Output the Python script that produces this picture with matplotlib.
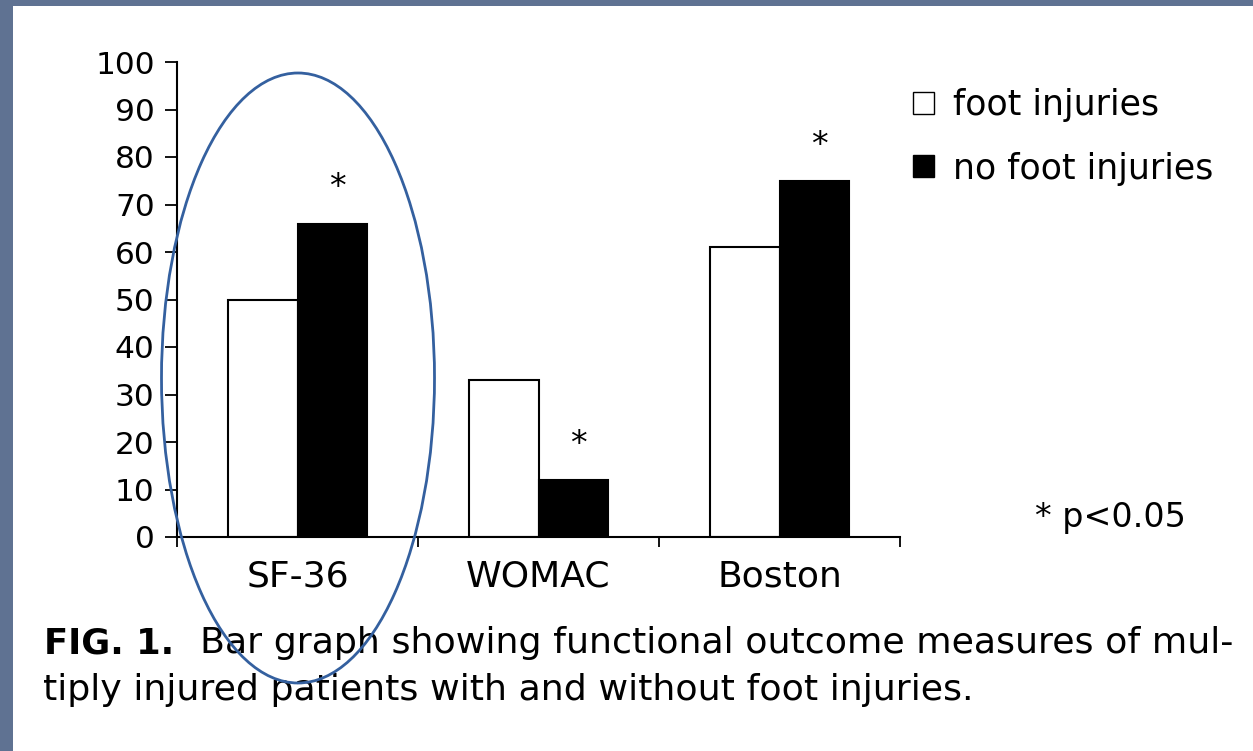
import matplotlib
matplotlib.use("Agg")
import matplotlib.pyplot as plt
import numpy as np
from matplotlib.patches import Ellipse, Rectangle

plt.rcParams['font.family'] = ['DejaVu Sans']

# data
measures = ["SF-36", "WOMAC", "Boston"]
foot_injuries = [50, 33, 61]
no_foot_injuries = [66, 12, 75]
significant = [True, True, True]
series_names = ["foot injuries", "no foot injuries"]
caption_1 = "Bar graph showing functional outcome measures of mul-"
caption_2 = "tiply injured patients with and without foot injuries."

W, H = 1253, 751
fig = plt.figure(figsize=(W / 100, H / 100), dpi=100)
fig.patch.set_facecolor("#5f7292")
# white page inside the blue-grey frame
fig.patches.append(Rectangle((13 / W, 0), 1, 1 - 6 / H, transform=fig.transFigure,
                             facecolor="white", edgecolor="none", zorder=-5))

ax = fig.add_axes([177 / W, 1 - 537 / H, 723 / W, 475 / H])
ax.set_facecolor("none")

x = np.arange(len(measures))
w = 0.29
ax.bar(x - w / 2, foot_injuries, w, color="white", edgecolor="black", linewidth=1.5,
       label=series_names[0])
ax.bar(x + w / 2, no_foot_injuries, w, color="black", edgecolor="black", linewidth=1.5,
       label=series_names[1])
for i in range(len(measures)):
    if significant[i]:
        ax.text(x[i] + w / 2 + 0.02, no_foot_injuries[i] + 7.5, "*", ha="center",
                va="center", fontsize=24)

ax.set_xlim(-0.5, 2.5)
ax.set_ylim(0, 100)
ax.set_yticks(np.arange(0, 101, 10))
ax.set_xticks(x)
ax.set_xticklabels(measures)
ax.set_xticks([-0.5, 0.5, 1.5, 2.5], minor=True)
ax.tick_params(axis="x", which="major", length=0, pad=16, labelsize=26)
ax.tick_params(axis="x", which="minor", length=7, width=1.3, direction="out")
ax.tick_params(axis="y", length=9, width=1.3, pad=7, labelsize=22.5)
for s in ["top", "right"]:
    ax.spines[s].set_visible(False)
for s in ["left", "bottom"]:
    ax.spines[s].set_linewidth(1.5)

leg = fig.legend(loc="upper left", bbox_to_anchor=(913 / W, 1 - 88 / H), frameon=False,
                 fontsize=25, handlelength=0.6, handleheight=0.6, handletextpad=0.55,
                 labelspacing=0.85, borderpad=0, borderaxespad=0)
for h in leg.legend_handles:
    h.set_linewidth(1.0)

fig.text(1035 / W, 1 - 518 / H, "* p<0.05", fontsize=24, va="center", ha="left")

fig.text(44 / W, 1 - 653 / H, "FIG. 1.", fontsize=25.5, fontweight="bold",
         va="baseline", ha="left")
fig.text(200 / W, 1 - 653 / H, caption_1, fontsize=26.2, va="baseline", ha="left")
fig.text(43 / W, 1 - 700 / H, caption_2, fontsize=26.2, va="baseline", ha="left")

fig.patches.append(Ellipse((298 / W, 1 - 378 / H), 273 / W, 610 / H,
                           transform=fig.transFigure, fill=False,
                           edgecolor="#34609f", linewidth=2, zorder=10))

fig.savefig("out.png", dpi=100, facecolor=fig.get_facecolor())
